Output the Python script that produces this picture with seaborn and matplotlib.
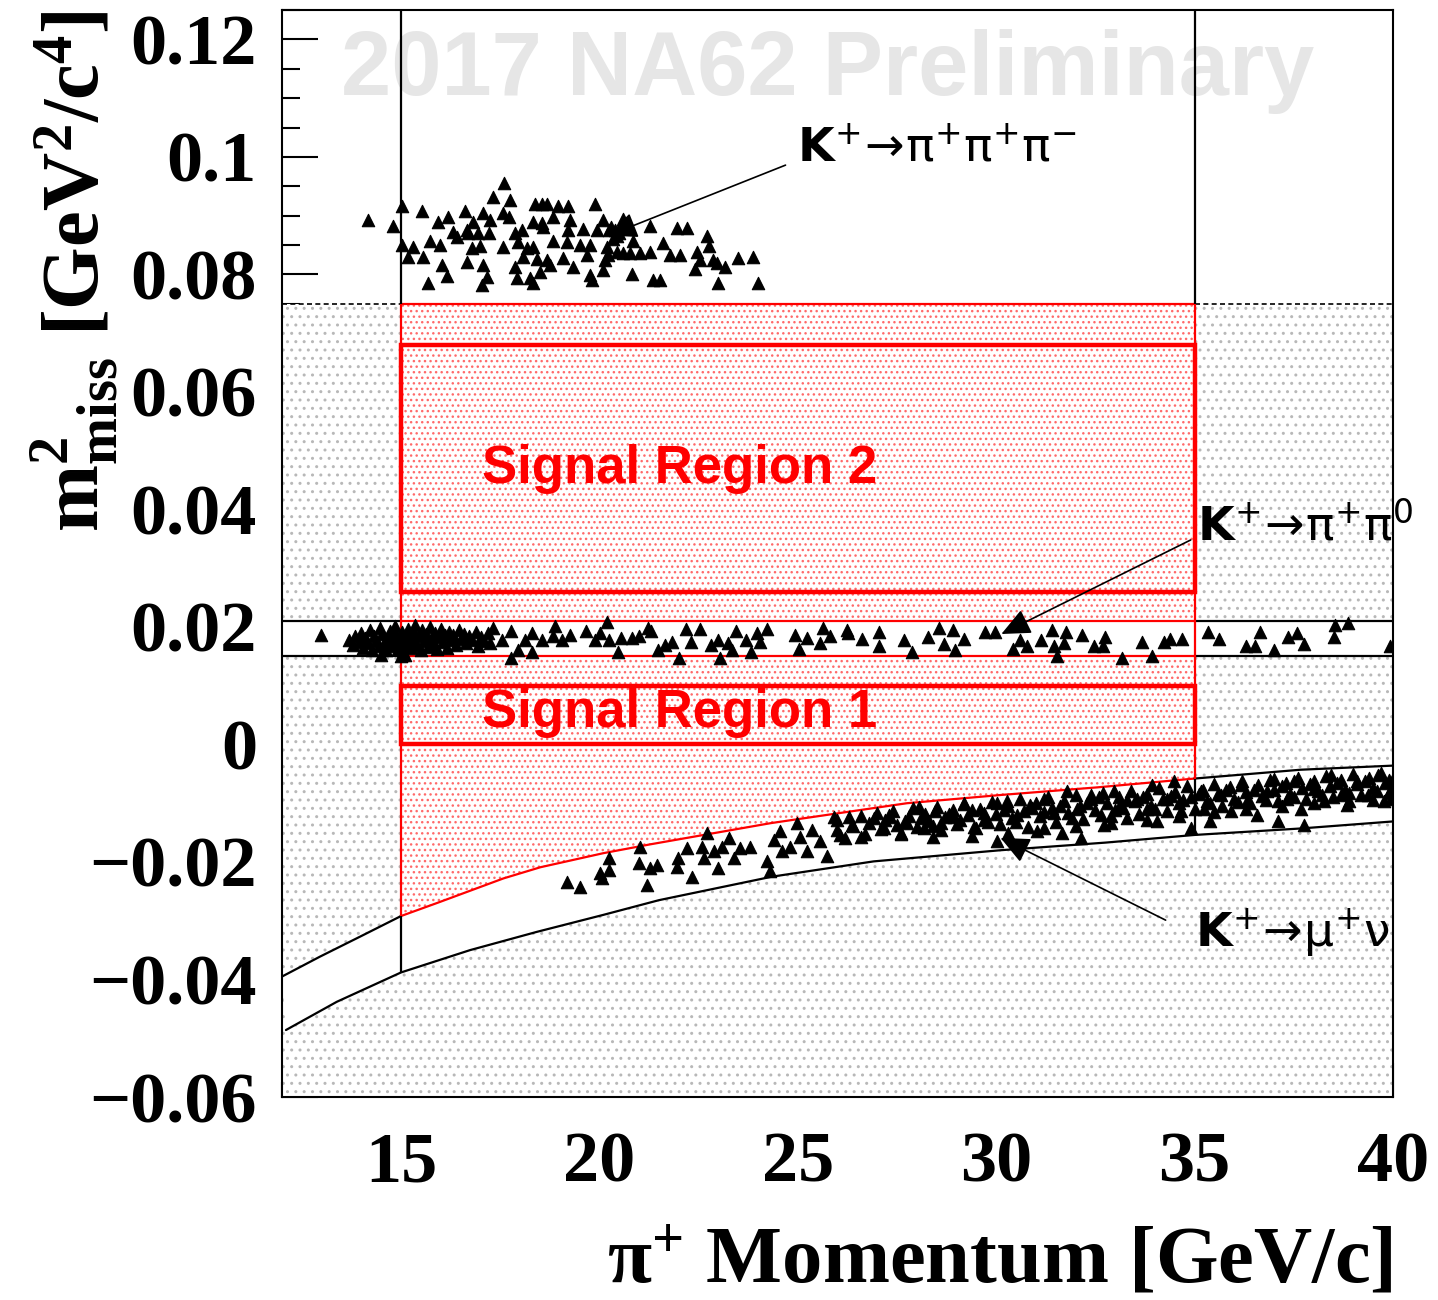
"""NA62 2017 ön sonuçları: π+ momentumu ile m²miss dağılımı ve sinyal bölgeleri."""

import matplotlib

matplotlib.use("Agg")
import matplotlib.pyplot as plt
import numpy as np
import pandas as pd
import seaborn as sns
from matplotlib.patches import ArrowStyle, Rectangle

# Eksen sınırları
P_MIN, P_MAX = 12, 40
M2_MIN, M2_MAX = -0.06, 0.125

# Kesimler ve bölgeler
P_CUT = (15.0, 35.0)
M2_TOP_CUT = 0.075
PIPI_BAND = (0.015, 0.021)
SR1 = (0.0, 0.010)
SR2 = (0.026, 0.068)

# K+ -> mu+ nu kinematik bandı (resimden okunan noktalar)
UPPER_P = [12.0, 12.96, 13.97, 15.0, 15.9, 17.58, 18.51, 20.1, 21.28, 24.31, 24.81,
           27.75, 30.11, 32.55, 35.0, 37.67, 40.0]
UPPER_M2 = [-0.0395, -0.0361, -0.0327, -0.0292, -0.0270, -0.0228, -0.0209, -0.0185,
            -0.0170, -0.0134, -0.0129, -0.0100, -0.0086, -0.0073, -0.0058, -0.0043, -0.0036]
LOWER_P = [12.1, 13.38, 15.0, 16.74, 18.42, 20.1, 21.5, 24.35, 26.91, 30.11, 32.76,
           35.0, 37.67, 40.0]
LOWER_M2 = [-0.0486, -0.0438, -0.0388, -0.0350, -0.0319, -0.0290, -0.0265, -0.0225,
            -0.0199, -0.0180, -0.0167, -0.0154, -0.0143, -0.0131]

# Olaylar (p [GeV/c], m2 [GeV^2/c^4])
K3PI_EVENTS = [
    (14.17, 0.0893), (14.80, 0.0883), (15.03, 0.0917), (15.03, 0.0850), (15.30, 0.0847),
    (15.53, 0.0908), (15.18, 0.0830), (15.56, 0.0830), (15.73, 0.0857), (15.93, 0.0889),
    (16.19, 0.0898), (15.98, 0.0850), (16.03, 0.0816), (16.16, 0.0797), (15.68, 0.0785),
    (16.31, 0.0872), (16.41, 0.0864), (16.62, 0.0908), (16.67, 0.0876), (16.82, 0.0889),
    (16.69, 0.0871), (16.67, 0.0821), (16.94, 0.0871), (17.07, 0.0905), (17.25, 0.0893),
    (17.22, 0.0871), (16.79, 0.0845), (16.99, 0.0849), (17.07, 0.0816), (17.17, 0.0796),
    (17.04, 0.0782), (17.32, 0.0932), (17.60, 0.0956), (17.57, 0.0905), (17.73, 0.0898),
    (17.75, 0.0927), (17.57, 0.0847), (17.88, 0.0871), (18.05, 0.0876), (17.95, 0.0855),
    (17.88, 0.0813), (17.93, 0.0794), (18.08, 0.0830), (18.18, 0.0845), (18.33, 0.0847),
    (18.25, 0.0794), (18.33, 0.0785), (18.51, 0.0804), (18.38, 0.0920), (18.56, 0.0920),
    (18.68, 0.0920), (18.33, 0.0889), (18.56, 0.0888), (18.58, 0.0881), (18.43, 0.0827),
    (18.68, 0.0825), (18.76, 0.0816), (18.83, 0.0898), (18.96, 0.0917), (18.83, 0.0857),
    (19.09, 0.0828), (19.21, 0.0917), (19.26, 0.0893), (19.21, 0.0876), (19.19, 0.0855),
    (19.34, 0.0813), (19.52, 0.0850), (19.59, 0.0877), (19.69, 0.0833), (19.77, 0.0799),
    (19.82, 0.0791), (19.89, 0.0920), (19.94, 0.0876), (19.77, 0.0850), (20.10, 0.0893),
    (20.20, 0.0847), (20.22, 0.0833), (20.15, 0.0825), (20.10, 0.0808), (20.60, 0.0894),
    (20.45, 0.0838), (20.60, 0.0837), (20.85, 0.0857), (20.78, 0.0837), (21.03, 0.0837),
    (20.83, 0.0801), (21.28, 0.0883), (21.28, 0.0838), (21.61, 0.0854), (21.79, 0.0833),
    (22.04, 0.0833), (21.96, 0.0879), (22.21, 0.0879), (21.36, 0.0791), (21.53, 0.0791),
    (22.47, 0.0838), (22.72, 0.0865), (22.75, 0.0848), (22.54, 0.0825), (22.42, 0.0809),
    (22.85, 0.0825), (22.97, 0.0820), (23.17, 0.0813), (23.00, 0.0785), (23.50, 0.0828),
    (23.88, 0.0830), (24.00, 0.0785), (20.30, 0.0880), (20.40, 0.0875), (20.50, 0.0870),
    (20.35, 0.0860), (20.45, 0.0865), (20.55, 0.0880), (20.25, 0.0875),
]

PIPI_EVENTS = [
    (12.98, 0.0187), (13.70, 0.0178), (13.80, 0.0170), (13.85, 0.0185), (13.95, 0.0175),
    (14.00, 0.0190), (14.05, 0.0165), (14.10, 0.0182), (14.18, 0.0172), (14.22, 0.0194),
    (14.28, 0.0160), (14.32, 0.0185), (14.38, 0.0176), (14.45, 0.0167), (14.48, 0.0198),
    (14.52, 0.0188), (14.58, 0.0172), (14.62, 0.0160), (14.66, 0.0182), (14.72, 0.0193),
    (14.76, 0.0168), (14.80, 0.0178), (14.85, 0.0201), (14.88, 0.0186), (14.92, 0.0163),
    (14.97, 0.0175), (15.02, 0.0191), (15.05, 0.0157), (15.08, 0.0182), (15.12, 0.0170),
    (15.17, 0.0197), (15.20, 0.0186), (15.24, 0.0164), (15.28, 0.0177), (15.33, 0.0192),
    (15.36, 0.0203), (15.40, 0.0170), (15.45, 0.0184), (15.50, 0.0160), (15.53, 0.0195),
    (15.58, 0.0176), (15.62, 0.0188), (15.67, 0.0166), (15.72, 0.0200), (15.76, 0.0180),
    (15.80, 0.0171), (15.85, 0.0190), (15.90, 0.0162), (15.95, 0.0183), (16.00, 0.0196),
    (16.05, 0.0174), (16.10, 0.0186), (16.15, 0.0165), (16.20, 0.0192), (16.25, 0.0178),
    (16.32, 0.0186), (16.38, 0.0170), (16.45, 0.0195), (16.50, 0.0180), (16.58, 0.0188),
    (16.65, 0.0172), (16.72, 0.0185), (16.80, 0.0177), (16.88, 0.0192), (16.95, 0.0168),
    (17.02, 0.0183), (17.10, 0.0176), (17.18, 0.0190), (17.25, 0.0172), (14.50, 0.0153),
    (15.10, 0.0152), (15.00, 0.0150),
    (17.32, 0.0199), (17.54, 0.0178), (17.76, 0.0193), (17.76, 0.0148), (17.94, 0.0160),
    (18.12, 0.0178), (18.30, 0.0190), (18.30, 0.0157), (18.56, 0.0178), (18.83, 0.0184),
    (18.87, 0.0202), (19.05, 0.0178), (19.27, 0.0187), (19.67, 0.0193), (19.89, 0.0178),
    (20.02, 0.0190), (20.20, 0.0208), (20.24, 0.0178), (20.46, 0.0157), (20.55, 0.0181),
    (20.82, 0.0181), (21.00, 0.0184), (21.22, 0.0199), (21.30, 0.0193), (21.48, 0.0160),
    (21.66, 0.0169), (21.83, 0.0175), (22.01, 0.0148), (22.19, 0.0196), (22.32, 0.0175),
    (22.54, 0.0196), (22.81, 0.0169), (22.98, 0.0178), (23.03, 0.0148), (23.25, 0.0172),
    (23.34, 0.0160), (23.43, 0.0193), (23.69, 0.0178), (23.82, 0.0157), (23.96, 0.0190),
    (24.05, 0.0175), (24.22, 0.0196), (24.93, 0.0187), (25.24, 0.0181), (25.02, 0.0163),
    (25.55, 0.0172), (25.64, 0.0199), (25.82, 0.0184), (26.26, 0.0190),
    (26.25, 0.0195), (26.61, 0.0180), (27.05, 0.0192), (27.05, 0.0167), (27.67, 0.0177),
    (27.89, 0.0157), (28.29, 0.0183), (28.56, 0.0198), (28.69, 0.0171), (28.91, 0.0195),
    (28.96, 0.0161), (29.18, 0.0180), (29.71, 0.0192), (29.98, 0.0192), (30.42, 0.0163),
    (30.60, 0.0177), (30.78, 0.0168), (31.14, 0.0177), (31.40, 0.0195), (31.45, 0.0168),
    (31.53, 0.0150), (31.71, 0.0172), (31.76, 0.0192), (32.16, 0.0186), (32.47, 0.0167),
    (32.69, 0.0168), (32.73, 0.0183), (33.18, 0.0148), (33.67, 0.0174), (33.93, 0.0150),
    (34.24, 0.0174), (34.38, 0.0180), (34.69, 0.0180), (35.35, 0.0192), (35.62, 0.0180),
    (36.29, 0.0168), (36.51, 0.0168), (36.64, 0.0192), (37.00, 0.0160), (37.35, 0.0183),
    (37.57, 0.0190), (37.75, 0.0171), (38.51, 0.0183), (38.55, 0.0204), (38.86, 0.0207),
    (39.93, 0.0168),
]

MUNU_EVENTS = [
    (19.18, -0.0234), (19.52, -0.0242), (20.02, -0.0219), (20.23, -0.0214), (20.23, -0.0194),
    (20.06, -0.0228), (21.03, -0.0174), (20.99, -0.0202), (21.20, -0.0239), (21.28, -0.0211),
    (21.45, -0.0205), (21.99, -0.0194), (21.95, -0.0208), (22.21, -0.0177), (22.33, -0.0225),
    (22.58, -0.0174), (22.63, -0.0194), (22.71, -0.0151), (22.88, -0.0182), (23.00, -0.0211),
    (23.09, -0.0174), (23.26, -0.0160), (23.38, -0.0194), (23.55, -0.0177), (23.80, -0.0174),
    (24.22, -0.0199), (24.31, -0.0216), (24.39, -0.0163), (24.56, -0.0148), (24.60, -0.0182),
    (24.81, -0.0174), (24.98, -0.0134), (25.06, -0.0157), (25.23, -0.0182), (25.36, -0.0146),
    (25.57, -0.0165), (25.74, -0.0190), (25.91, -0.0123), (26.07, -0.0154), (26.37, -0.0137),
    (26.58, -0.0157), (26.91, -0.0126), (27.17, -0.0143), (27.33, -0.0123), (27.59, -0.0151),
    (27.75, -0.0134), (28.05, -0.0106), (28.17, -0.0143), (28.47, -0.0114), (28.60, -0.0134),
    (28.93, -0.0123), (29.18, -0.0100), (29.44, -0.0140), (29.69, -0.0117), (30.02, -0.0100),
    (30.02, -0.0165),
    (30.28, -0.0097), (30.53, -0.0120), (30.86, -0.0103), (31.03, -0.0148), (31.20, -0.0092),
    (31.45, -0.0117), (31.66, -0.0151), (31.79, -0.0080), (32.04, -0.0109), (32.13, -0.0160),
    (32.38, -0.0086), (32.63, -0.0120), (32.71, -0.0137), (32.97, -0.0080), (33.13, -0.0103),
    (33.30, -0.0126), (33.55, -0.0092), (33.81, -0.0109), (33.93, -0.0069), (34.06, -0.0131),
    (34.31, -0.0092), (34.48, -0.0063), (34.65, -0.0114), (34.90, -0.0143), (35.15, -0.0080),
    (35.24, -0.0109), (35.40, -0.0131), (35.66, -0.0086), (35.91, -0.0114), (36.16, -0.0069),
    (36.33, -0.0097), (36.58, -0.0120), (36.83, -0.0080), (37.00, -0.0058), (37.09, -0.0131),
    (37.34, -0.0092), (37.51, -0.0063), (37.67, -0.0109), (37.76, -0.0137), (38.01, -0.0075),
    (38.26, -0.0097), (38.43, -0.0052), (38.68, -0.0086), (38.85, -0.0103), (39.10, -0.0063),
    (39.36, -0.0086), (39.61, -0.0052), (39.78, -0.0097), (39.94, -0.0075),
    (26.0, -0.0128), (26.0, -0.0146), (26.2, -0.0160), (26.3, -0.0124), (26.4, -0.0139),
    (26.6, -0.0121), (26.7, -0.0152), (26.8, -0.0133), (27.0, -0.0117), (27.1, -0.0144),
    (27.2, -0.0128), (27.4, -0.0113), (27.5, -0.0137), (27.6, -0.0152), (27.8, -0.0122),
    (27.9, -0.0108), (28.0, -0.0140), (28.2, -0.0118), (28.3, -0.0131), (28.5, -0.0106),
    (28.6, -0.0146), (28.7, -0.0124), (28.9, -0.0112), (29.0, -0.0135), (29.2, -0.0102),
    (29.3, -0.0120), (29.5, -0.0142), (29.6, -0.0110), (29.7, -0.0128), (29.9, -0.0098),
    (30.0, -0.0118), (30.1, -0.0136), (30.3, -0.0104), (30.4, -0.0125), (30.6, -0.0093),
    (30.7, -0.0113), (30.8, -0.0140), (31.0, -0.0100), (31.1, -0.0122), (31.3, -0.0090),
    (31.4, -0.0108), (31.5, -0.0132), (31.7, -0.0096), (31.8, -0.0117), (32.0, -0.0086),
    (32.1, -0.0104), (32.2, -0.0127), (32.4, -0.0093), (32.5, -0.0112), (32.7, -0.0082),
    (32.8, -0.0100), (32.9, -0.0122), (33.1, -0.0089), (33.2, -0.0108), (33.4, -0.0079),
    (33.5, -0.0097), (33.6, -0.0118), (33.8, -0.0085), (33.9, -0.0104), (34.1, -0.0074),
    (34.2, -0.0093), (34.3, -0.0113), (34.5, -0.0081), (34.6, -0.0100), (34.8, -0.0071),
    (34.9, -0.0089), (35.0, -0.0110), (35.2, -0.0077), (35.3, -0.0096), (35.5, -0.0067),
    (35.6, -0.0085), (35.7, -0.0105), (35.9, -0.0073), (36.0, -0.0092), (36.2, -0.0063),
    (36.3, -0.0081), (36.4, -0.0100), (36.6, -0.0069), (36.7, -0.0088), (36.9, -0.0060),
    (37.0, -0.0077), (37.1, -0.0096), (37.3, -0.0066), (37.4, -0.0084), (37.6, -0.0057),
    (37.7, -0.0074), (37.8, -0.0092), (38.0, -0.0063), (38.1, -0.0080), (38.3, -0.0054),
    (38.4, -0.0071), (38.5, -0.0089), (38.7, -0.0060), (38.8, -0.0077), (39.0, -0.0051),
    (39.1, -0.0068), (39.2, -0.0086), (39.4, -0.0057), (39.5, -0.0074), (39.7, -0.0049),
    (39.8, -0.0065), (39.9, -0.0082), (40.0, -0.0058),
    (27.3, -0.0120), (27.7, -0.0130), (28.1, -0.0125), (28.4, -0.0138), (28.8, -0.0118),
    (29.1, -0.0128), (29.4, -0.0112), (29.8, -0.0132), (30.2, -0.0112), (30.5, -0.0132),
    (30.9, -0.0108), (31.2, -0.0115), (31.6, -0.0104), (31.9, -0.0125), (32.3, -0.0100),
    (32.6, -0.0090), (33.0, -0.0112), (33.3, -0.0095), (33.7, -0.0090), (34.0, -0.0110),
    (34.4, -0.0088), (34.7, -0.0094), (35.1, -0.0085), (35.4, -0.0100), (35.8, -0.0078),
    (36.1, -0.0098), (36.5, -0.0077), (36.8, -0.0094), (37.2, -0.0070), (37.5, -0.0090),
    (37.9, -0.0068), (38.2, -0.0086), (38.6, -0.0066), (38.9, -0.0082), (39.3, -0.0062),
    (39.6, -0.0080), (39.9, -0.0060), (39.95, -0.0092), (39.5, -0.0095), (38.9, -0.0097),
    (38.0, -0.0100), (37.2, -0.0105), (36.3, -0.0110), (35.5, -0.0115), (34.6, -0.0122),
    (33.8, -0.0128), (32.9, -0.0133), (32.0, -0.0138), (31.2, -0.0143), (30.3, -0.0150),
    (29.4, -0.0155), (28.4, -0.0157),
]

X_TICKS = [15, 20, 25, 30, 35, 40]
Y_TICKS = [-0.06, -0.04, -0.02, 0.0, 0.02, 0.04, 0.06, 0.08, 0.10, 0.12]
Y_TICK_LABELS = ["−0.06", "−0.04", "−0.02", "0", "0.02", "0.04", "0.06", "0.08", "0.1", "0.12"]

# (metin, metin konumu, ok başlangıcı, ok ucu)
DECAY_LABELS = [
    (r"$\mathbf{K}^{+}\!\rightarrow\!\pi^{+}\pi^{+}\pi^{-}$", (24.99, 0.0991), (24.69, 0.0986), (20.22, 0.0866)),
    (r"$\mathbf{K}^{+}\!\rightarrow\!\pi^{+}\pi^{0}$", (35.05, 0.0348), (34.90, 0.0348), (30.13, 0.0188)),
    (r"$\mathbf{K}^{+}\!\rightarrow\!\mu^{+}\nu$", (35.0, -0.0346), (34.27, -0.0299), (30.11, -0.0159)),
]

sns.set_style("white")
plt.rcParams["font.family"] = ["Liberation Serif", "DejaVu Serif"]
plt.rcParams["font.weight"] = "bold"
plt.rcParams["text.color"] = "black"
plt.rcParams["xtick.color"] = "black"
plt.rcParams["ytick.color"] = "black"
plt.rcParams["mathtext.fontset"] = "custom"
plt.rcParams["mathtext.rm"] = "Liberation Serif:bold"
plt.rcParams["mathtext.bf"] = "Liberation Serif:bold"
plt.rcParams["mathtext.default"] = "regular"
plt.rcParams["hatch.linewidth"] = 1.0

fig = plt.figure(figsize=(14.38, 13), dpi=100)
ax = fig.add_axes([0.1961, 0.15615, 0.7726, 0.83615])

p_lo, p_hi = P_CUT
up = dict(zip(UPPER_P, UPPER_M2))
lo = dict(zip(LOWER_P, LOWER_M2))

# Dolgular: gri arka plan, beyaz bantlar, kırmızı kabul bölgesi
ax.fill_between([P_MIN, P_MAX], M2_MIN, M2_TOP_CUT, facecolor="white",
                edgecolor="#b8b8b8", hatch="..", linewidth=0, zorder=1)
band_x = list(UPPER_P) + list(LOWER_P[::-1])
band_y = list(UPPER_M2) + list(LOWER_M2[::-1])
ax.fill(band_x, band_y, color="white", linewidth=0, zorder=2)
red_x = [p for p in UPPER_P if p_lo <= p <= p_hi]
red_y = [m for p, m in zip(UPPER_P, UPPER_M2) if p_lo <= p <= p_hi]
ax.fill(red_x + [p_hi, p_lo], red_y + [M2_TOP_CUT, M2_TOP_CUT], facecolor="white",
        edgecolor="#ff6a6a", hatch="...", linewidth=0, zorder=3)
ax.fill_between([P_MIN, P_MAX], PIPI_BAND[0], PIPI_BAND[1], color="white", linewidth=0, zorder=4)

# Sınır çizgileri
lw = 1.6
left = [i for i, p in enumerate(UPPER_P) if p <= p_lo]
mid = [i for i, p in enumerate(UPPER_P) if p_lo <= p <= p_hi]
right = [i for i, p in enumerate(UPPER_P) if p >= p_hi]
for idx, col in ((left, "black"), (mid, "red"), (right, "black")):
    ax.plot([UPPER_P[i] for i in idx], [UPPER_M2[i] for i in idx], color=col, lw=lw, zorder=5)
ax.plot(LOWER_P, LOWER_M2, color="black", lw=lw, zorder=5)

for y in PIPI_BAND:
    ax.hlines(y, P_MIN, p_lo, color="black", lw=lw, zorder=5)
    ax.hlines(y, p_hi, P_MAX, color="black", lw=lw, zorder=5)
    ax.hlines(y, p_lo, p_hi, color="red", lw=lw, zorder=5)
ax.hlines(M2_TOP_CUT, P_MIN, p_lo, color="black", lw=1.2, linestyles=(0, (3, 2)), zorder=5)
ax.hlines(M2_TOP_CUT, p_hi, P_MAX, color="black", lw=1.2, linestyles=(0, (3, 2)), zorder=5)
ax.hlines(M2_TOP_CUT, p_lo, p_hi, color="red", lw=lw, zorder=5)
for p in P_CUT:
    ax.vlines(p, M2_TOP_CUT, M2_MAX, color="black", lw=lw, zorder=5)
    ax.vlines(p, up[p], M2_TOP_CUT, color="red", lw=lw, zorder=5)
    ax.vlines(p, lo[p], up[p], color="black", lw=lw, zorder=5)

for y0, y1 in (SR1, SR2):
    ax.add_patch(Rectangle((p_lo, y0), p_hi - p_lo, y1 - y0, fill=False,
                           edgecolor="red", lw=3.2, zorder=6))

# Olaylar
events = pd.DataFrame(K3PI_EVENTS + PIPI_EVENTS + MUNU_EVENTS, columns=["p", "m2"])
sns.scatterplot(data=events, x="p", y="m2", marker="^", s=80, color="black",
                edgecolor="black", linewidth=0.8, ax=ax, zorder=7, legend=False)

# Metinler
ax.text(25.75, 0.1106, "2017 NA62 Preliminary", family="Liberation Sans",
        fontweight="bold", fontsize=65, color="#e6e6e6", ha="center", va="baseline", zorder=0.5)
ax.text(17.04, 0.0445, "Signal Region 2", family="Liberation Sans", fontweight="bold",
        fontsize=38, color="red", va="baseline", zorder=8)
ax.text(17.04, 0.0030, "Signal Region 1", family="Liberation Sans", fontweight="bold",
        fontsize=38, color="red", va="baseline", zorder=8)

head = ArrowStyle("-|>", head_length=1.0, head_width=0.45)
for label, pos, start, tip in DECAY_LABELS:
    ax.text(pos[0], pos[1], label, family="DejaVu Sans", fontweight="normal",
            math_fontfamily="dejavusans", fontsize=34, va="baseline", zorder=8)
    ax.annotate("", xy=tip, xytext=start,
                arrowprops=dict(arrowstyle=head, mutation_scale=18, lw=1.2,
                                color="black", shrinkA=0, shrinkB=0), zorder=8)

# Eksenler
ax.set_xlim(P_MIN, P_MAX)
ax.set_ylim(M2_MIN, M2_MAX)
ax.set_xticks(X_TICKS)
ax.set_xticks(np.arange(P_MIN, P_MAX + 1, 1), minor=True)
ax.set_yticks(Y_TICKS)
ax.set_yticklabels(Y_TICK_LABELS)
ax.set_yticks(np.arange(M2_MIN, M2_MAX + 0.001, 0.005), minor=True)
ax.set_xlabel("")
ax.set_ylabel("")
ax.tick_params(axis="x", which="major", direction="in", length=24.5, width=1.5,
               labelsize=52, pad=25, top=False, bottom=True)
ax.tick_params(axis="x", which="minor", direction="in", length=11, width=1.5,
               top=False, bottom=True)
ax.tick_params(axis="y", which="major", direction="in", length=26, width=1.5,
               labelsize=52, pad=18, left=True, right=False)
ax.tick_params(axis="y", which="minor", direction="in", length=13, width=1.5,
               left=True, right=False)
for spine in ax.spines.values():
    spine.set_linewidth(1.5)
    spine.set_color("black")
    spine.set_zorder(9)

fig.text(0.9687, 0.0135, r"π$^{+}$ Momentum [GeV/c]", ha="right", va="baseline", fontsize=58)
fig.text(0.0515, 0.992, r"$m^{2}_{miss}$ [GeV$^{2}$/c$^{4}$]", rotation=90,
         ha="center", va="top", fontsize=58)

fig.savefig("out.png", dpi=100)
